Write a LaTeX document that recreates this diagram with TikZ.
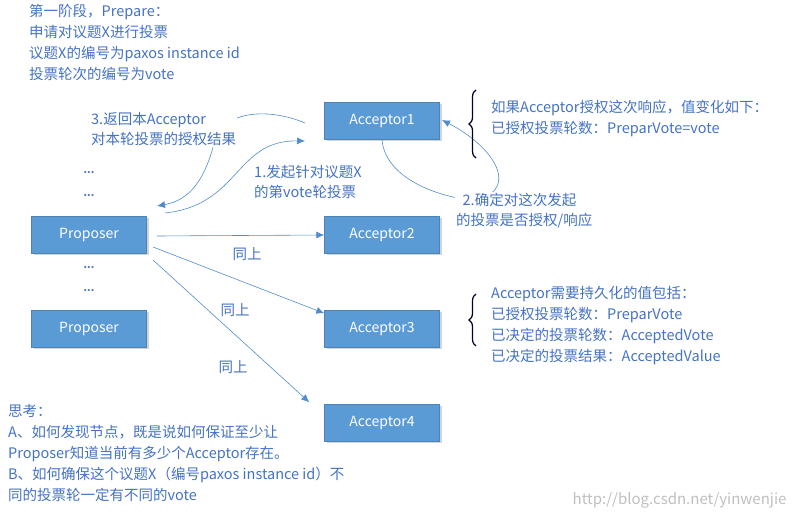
\documentclass[tikz,border=0pt]{standalone}
\usepackage{fontspec}
\setmainfont{Noto Sans CJK SC}
\usetikzlibrary{decorations.pathreplacing,shadows,arrows.meta}
\definecolor{bx}{RGB}{91,155,213}
\definecolor{tx}{RGB}{68,114,196}
\definecolor{ln}{RGB}{80,140,205}
\begin{document}
\begin{tikzpicture}[x=1pt,y=-1pt,
 box/.style={draw=bx!85!black,fill=bx,text=white,minimum width=115pt,minimum height=37pt,inner sep=0pt,font=\fontsize{14}{16}\selectfont,drop shadow={shadow xshift=2pt,shadow yshift=-2pt,opacity=0.35}},
 note/.style={text=tx,align=left,font=\fontsize{14.5}{21}\selectfont,inner sep=1pt},
 lbl/.style={text=tx,align=left,font=\fontsize{14.5}{20}\selectfont,fill=white,inner sep=1pt},
 conn/.style={draw=ln,line width=0.6pt,-{Latex[length=8pt,width=7pt]}},
 br/.style={draw=black!80!blue,line width=1.2pt,decorate,decoration={brace,amplitude=7pt}}]
\useasboundingbox (0,0) rectangle (798,518);
\node[box] (a1) at (382,121) {Acceptor1};
\node[box] (a2) at (382,235) {Acceptor2};
\node[box] (a3) at (382,329) {Acceptor3};
\node[box] (a4) at (382,423) {Acceptor4};
\node[box] (p1) at (89,235) {Proposer};
\node[box] (p2) at (89,329) {Proposer};
\node[note,anchor=north west] (t0) at (28,3) {第一阶段，Prepare：\\申请对议题X进行投票\\议题X的编号为paxos instance id\\投票轮次的编号为vote};
\node[text=tx,font=\bfseries] (d1) at (89,173) {...};
\node[text=tx,font=\bfseries] (d2) at (89,196) {...};
\node[text=tx,font=\bfseries] (d3) at (89,268) {...};
\node[text=tx,font=\bfseries] (d4) at (89,291) {...};
\coordinate (c3s) at (305,123);
\coordinate (c3e) at (157,206);
\draw[conn] (c3s) .. controls (270,108) and (225,110) .. (215,140) .. controls (205,180) and (190,200) .. (c3e);
\node[lbl,anchor=north west] (l3) at (90,111) {3.返回本Acceptor\\对本轮投票的授权结果};
\coordinate (c1s) at (165,213);
\coordinate (c1e) at (305,141);
\draw[conn] (c1s) .. controls (240,205) and (235,140) .. (c1e);
\node[lbl,anchor=north west] (l1) at (253,164) {1.发起针对议题X\\的第vote轮投票};
\coordinate (c2e) at (442,120);
\draw[conn] (a1.south) .. controls (385,175) and (430,195) .. (470,200) .. controls (520,195) and (500,150) .. (c2e);
\node[lbl,anchor=north west] (l2) at (455,192) {~~2.确定对这次发起\\的投票是否授权/响应};
\coordinate (s2) at (157,236);
\coordinate (s3) at (153,247);
\coordinate (s4) at (153,260);
\draw[conn] (s2) -- (a2.west);
\draw[conn] (s3) -- ([yshift=-3pt]a3.north west);
\draw[conn] (s4) -- ([xshift=-15pt,yshift=2pt]a4.north west);
\node[lbl] (k1) at (247,254) {同上};
\node[lbl] (k2) at (235,310) {同上};
\node[lbl] (k3) at (233,367) {同上};
\coordinate (b1t) at (476,90);
\coordinate (b1b) at (476,158);
\draw[br] (b1b) -- (b1t);
\node[note,anchor=north west] (n1) at (490,99) {如果Acceptor授权这次响应，值变化如下：\\已授权投票轮数：PreparVote=vote};
\coordinate (b2t) at (476,294);
\coordinate (b2b) at (476,346);
\draw[br] (b2b) -- (b2t);
\node[note,anchor=north west] (n2) at (490,285) {Acceptor需要持久化的值包括：\\已授权投票轮数：PreparVote\\已决定的投票轮数：AcceptedVote\\已决定的投票结果：AcceptedValue};
\node[note,anchor=north west] (n3) at (7,403) {思考：\\A、如何发现节点，既是说如何保证至少让\\Proposer知道当前有多少个Acceptor存在。\\B、如何确保这个议题X（编号paxos instance id）不\\同的投票轮一定有不同的vote};
\node[text=black!25,font=\fontsize{15}{17}\selectfont,anchor=south east] (wm) at (790,512) {http://blog.csdn.net/yinwenjie};
\end{tikzpicture}
\end{document}
